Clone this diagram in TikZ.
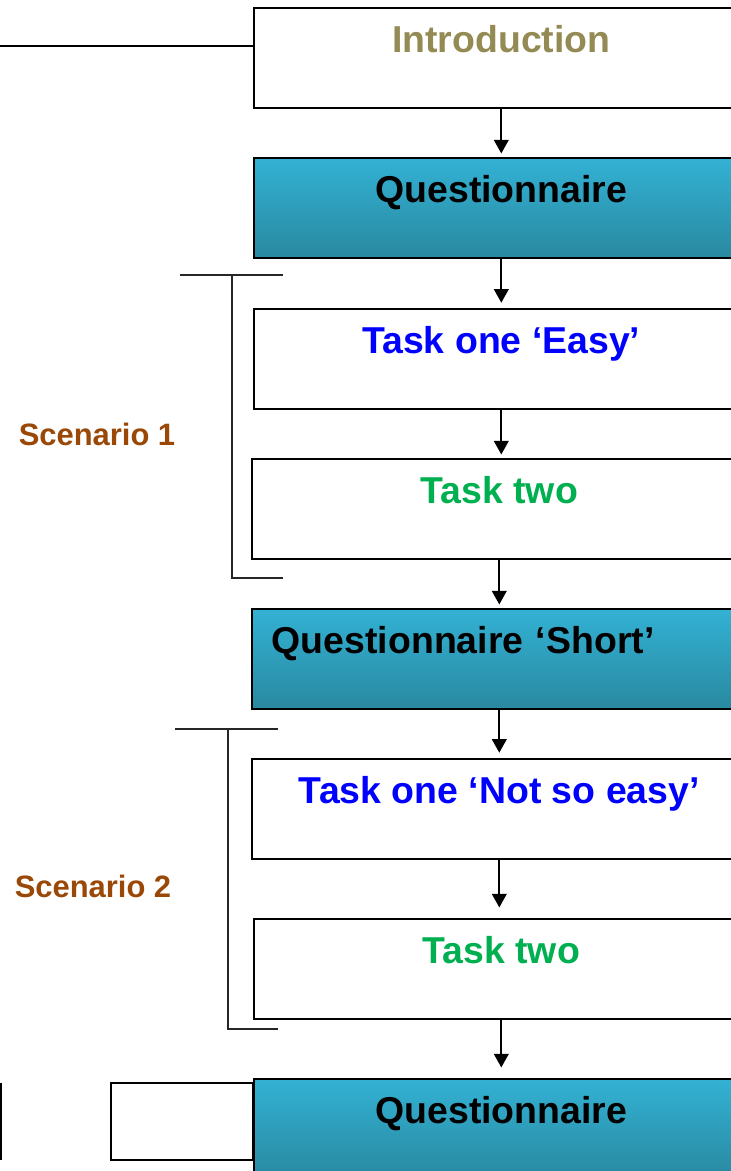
\documentclass[tikz,border=0pt]{standalone}
\usepackage{fontspec}
\setmainfont{Liberation Sans}
\usetikzlibrary{arrows.meta}
\definecolor{introolive}{RGB}{148,138,84}
\definecolor{tasksblue}{RGB}{0,0,255}
\definecolor{tasksgreen}{RGB}{0,176,80}
\definecolor{scenbrown}{RGB}{153,72,7}
\definecolor{qtop}{RGB}{51,177,212}
\definecolor{qbot}{RGB}{41,137,160}

\tikzset{
  stagebox/.style={draw=black,line width=0.9pt,rectangle,anchor=north west,
    minimum width=9.9cm,minimum height=2cm,inner sep=0pt,
    text height=0.9cm,text depth=1.1cm,
    font=\fontsize{21.3}{25}\selectfont\bfseries},
  questbox/.style={stagebox,top color=qtop,bottom color=qbot},
  flow/.style={line width=1.1pt,-{Triangle[width=0.29cm,length=0.27cm]}},
  bracket/.style={line width=0.6pt,black!85},
  scenlabel/.style={text=scenbrown,font=\fontsize{17.6}{21}\selectfont\bfseries}
}

\begin{document}
\begin{tikzpicture}
        \useasboundingbox (0,0) rectangle (14.62,-23.42);

        \coordinate (b1) at (5.06,-0.14);
        \coordinate (b2) at (5.06,-3.14);
        \coordinate (b3) at (5.06,-6.16);
        \coordinate (b4) at (5.02,-9.16);
        \coordinate (b5) at (5.02,-12.16);
        \coordinate (b6) at (5.02,-15.16);
        \coordinate (b7) at (5.06,-18.36);
        \coordinate (b8) at (5.06,-21.56);

        \node[stagebox,text=introolive] (intro) at (b1) {Introduction};
        \node[questbox] (questA) at (b2) {Questionnaire};
        \node[stagebox,text=tasksblue] (easyone) at (b3) {Task one ‘Easy’};
        \node[stagebox,text=tasksgreen] (easytwo) at (b4) {Task two};
        \node[questbox,text width=9.1cm,inner xsep=0.4cm,align=left] (questShort) at (b5) {Questionnaire ‘Short’};
        \node[stagebox,text=tasksblue] (hardone) at (b6) {Task one ‘Not so easy’};
        \node[stagebox,text=tasksgreen] (hardtwo) at (b7) {Task two};

        % left-hand boxes sit behind the last questionnaire
        \draw[line width=0.7pt,fill=white] (2.22,-21.66) rectangle (5.06,-23.2);
        \draw[line width=0.7pt] (0.02,-21.66) -- (0.02,-23.2);
        \node[questbox] (questB) at (b8) {Questionnaire};

        \draw[flow,shorten >=2pt] (intro.south) -- (intro.south |- questA.north);
        \draw[flow,shorten >=3pt] (questA.south) -- (questA.south |- easyone.north);
        \draw[flow,shorten >=2pt] (easyone.south) -- (easyone.south |- easytwo.north);
        \draw[flow,shorten >=2pt] (easytwo.south) -- (easytwo.south |- questShort.north);
        \draw[flow,shorten >=3pt] (questShort.south) -- (questShort.south |- hardone.north);
        \draw[flow,shorten >=6pt] (hardone.south) -- (hardone.south |- hardtwo.north);
        \draw[flow,shorten >=6pt] (hardtwo.south) -- (hardtwo.south |- questB.north);

        % line into the introduction
        \coordinate (introin) at (0,-0.92);
        \draw[line width=0.7pt] (introin) -- (introin -| intro.west);

        % scenario brackets
        \coordinate (s1a) at (3.6,-5.5);
        \coordinate (s1b) at (5.66,-5.5);
        \coordinate (s1c) at (4.64,-5.5);
        \coordinate (s1d) at (4.64,-11.56);
        \coordinate (s1e) at (5.66,-11.56);
        \draw[bracket] (s1a) -- (s1b);
        \draw[bracket] (s1c) -- (s1d) -- (s1e);
        \node[scenlabel] (scenone) at (1.94,-8.68) {Scenario 1};

        \coordinate (s2a) at (3.5,-14.58);
        \coordinate (s2b) at (5.56,-14.58);
        \coordinate (s2c) at (4.56,-14.58);
        \coordinate (s2d) at (4.56,-20.58);
        \coordinate (s2e) at (5.56,-20.58);
        \draw[bracket] (s2a) -- (s2b);
        \draw[bracket] (s2c) -- (s2d) -- (s2e);
        \node[scenlabel] (scentwo) at (1.86,-17.72) {Scenario 2};
    \end{tikzpicture}
\end{document}
